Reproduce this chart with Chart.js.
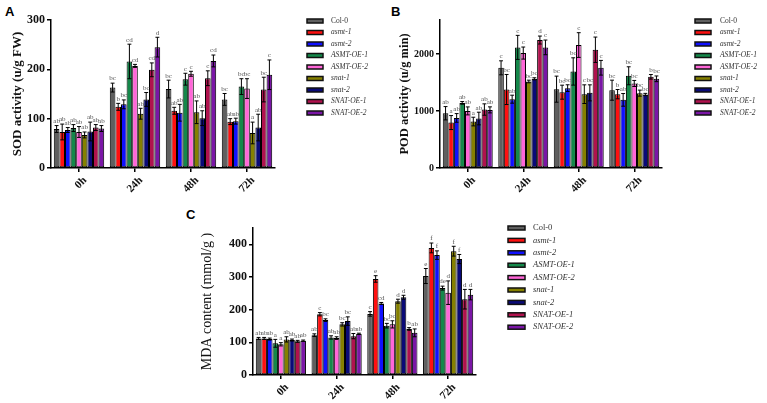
<!DOCTYPE html>
<html><head><meta charset="utf-8">
<script src="https://cdn.jsdelivr.net/npm/chart.js@4.4.1/dist/chart.umd.min.js"></script>
<style>
body{margin:0;background:#fff;width:767px;height:403px;overflow:hidden;position:relative}
canvas{position:absolute}
.pl{position:absolute;font:bold 13px "Liberation Sans",Arial,sans-serif;color:#000}
</style></head><body>
<div class="pl" style="left:5px;top:4px">A</div>
<div class="pl" style="left:391px;top:4px">B</div>
<div class="pl" style="left:186px;top:207px">C</div>
<canvas id="cA" width="390" height="200" style="left:0;top:0"></canvas>
<canvas id="cB" width="382" height="200" style="left:385px;top:0"></canvas>
<canvas id="cC" width="400" height="203" style="left:180px;top:200px"></canvas>
<script>
// ---- data ----
const timepoints = ['0h','24h','48h','72h'];
const genotypes = ['Col-0','asmt-1','asmt-2','ASMT-OE-1','ASMT-OE-2','snat-1','snat-2','SNAT-OE-1','SNAT-OE-2'];
const italicNames = [false,true,true,true,true,true,true,true,true];

// SOD activity (u/g FW), rows = genotypes, cols = timepoints
const sodTicks = [0,100,200,300];
const sodMean = [
  [79,163,160,139],[73,124,116,94],[77,129,112,95],[81,216,180,165],[73,207,191,161],
  [67,110,113,71],[74,139,101,82],[82,199,182,159],[80,245,217,189]];
const sodErr = [
  [7,9,18,12],[16,7,7,6],[5,9,17,6],[7,35,12,16],[11,3,5,20],
  [6,11,23,22],[19,14,15,27],[6,14,15,25],[6,20,12,30]];
const sodLetters = [
  ['ab','bc','bc','bc'],['ab','b','ab','ab'],['ab','bc','ab','ab'],['ab','cd','c','bc'],['ab','cd','c','bc'],
  ['ab','ab','ab','a'],['ab','bc','ab','ab'],['ab','cd','c','bc'],['ab','d','cd','c']];

// POD activity (u/g min)
const podTicks = [0,1000,2000];
const podMean = [
  [962,1760,1385,1367],[798,1379,1332,1297],[880,1209,1403,1197],[1144,2119,1696,1620],[1003,2019,2160,1485],
  [816,1520,1297,1315],[869,1567,1320,1291],[1027,2248,2077,1602],[1021,2119,1761,1567]];
const podErr = [
  [117,123,229,176],[123,264,123,82],[76,70,59,111],[23,211,240,158],[70,106,217,53],
  [76,23,164,53],[111,18,141,20],[100,70,223,40],[53,129,129,50]];
const podLetters = [
  ['ab','c','bc','bc'],['a','bc','bc','b'],['ab','ab','bc','ab'],['ab','c','bc','bc'],['ab','c','c','bc'],
  ['a','bc','c','bc'],['ab','bc','bc','bc'],['ab','d','c','b'],['ab','c','c','bc']];

// MDA content (mmol/g)
const mdaTicks = [0,100,200,300,400];
const mdaMean = [
  [112,122,187,303],[112,186,294,389],[110,168,219,367],[97,115,151,266],[94,113,155,252],
  [109,155,226,379],[107,165,238,355],[103,119,141,232],[105,126,129,246]];
const mdaErr = [
  [3,4,7,23],[3,5,10,15],[3,4,3,13],[12,5,7,6],[5,4,11,36],
  [8,5,6,15],[3,13,6,14],[3,8,4,30],[2,2,12,16]];
const mdaLetters = [
  ['ab','ab','c','e'],['ab','c','e','f'],['ab','bc','cd','f'],['a','ab','bc','de'],['a','ab','bc','d'],
  ['ab','bc','d','f'],['ab','bc','d','f'],['ab','ab','b','d'],['ab','ab','ab','d']];

// ---- styles ----
const colors = ['#5f5f5f','#ff1010','#1010ff','#14884a','#ff66d8','#858000','#0a0a78','#b0124e','#7a16a6'];
const SERIF = '"Liberation Serif","Times New Roman",serif';

const errPlugin = {
  id: 'errPlugin',
  afterDatasetsDraw(chart) {
    const {ctx} = chart; const ys = chart.scales.y;
    ctx.save();
    chart.data.datasets.forEach((ds, di) => {
      const meta = chart.getDatasetMeta(di);
      meta.data.forEach((bar, i) => {
        const v = ds.data[i], e = ds.errs[i];
        const yt = ys.getPixelForValue(v + e), yb = ys.getPixelForValue(v - e);
        const cw = bar.width * 0.35;
        ctx.strokeStyle = '#000'; ctx.lineWidth = 1;
        ctx.beginPath();
        ctx.moveTo(bar.x, yb); ctx.lineTo(bar.x, yt);
        ctx.moveTo(bar.x - cw, yt); ctx.lineTo(bar.x + cw, yt);
        ctx.moveTo(bar.x - cw, yb); ctx.lineTo(bar.x + cw, yb);
        ctx.stroke();
        ctx.fillStyle = '#555';
        ctx.font = '7px ' + SERIF;
        ctx.textAlign = 'center'; ctx.textBaseline = 'bottom';
        ctx.fillText(ds.letters[i], bar.x, yt - 1);
      });
    });
    ctx.restore();
  }
};

const legendPlugin = {
  id: 'sideLegend',
  afterDraw(chart, args, o) {
    const {ctx} = chart;
    ctx.save();
    chart.data.datasets.forEach((ds, i) => {
      const cy = o.y + i * o.dy;
      ctx.fillStyle = ds.backgroundColor;
      ctx.fillRect(o.x, cy - o.bh / 2, o.bw, o.bh);
      ctx.strokeStyle = '#111'; ctx.lineWidth = 1.5;
      ctx.strokeRect(o.x, cy - o.bh / 2, o.bw, o.bh);
      ctx.fillStyle = '#333';
      ctx.font = (italicNames[i] ? 'italic ' : '') + o.fs + 'px ' + SERIF;
      ctx.textAlign = 'left'; ctx.textBaseline = 'middle';
      ctx.fillText(ds.label, o.tx, cy);
    });
    ctx.restore();
  }
};

function makeChart(id, means, errs, letters, tickVals, cfg) {
  const datasets = genotypes.map((g, k) => ({
    label: g,
    data: means[k],
    errs: errs[k],
    letters: letters[k],
    backgroundColor: colors[k],
    borderColor: '#000',
    borderWidth: 1,
    borderSkipped: false,
    categoryPercentage: 0.9,
    barPercentage: 1.0
  }));
  return new Chart(document.getElementById(id), {
    type: 'bar',
    data: { labels: timepoints, datasets },
    options: {
      responsive: false, animation: false,
      layout: { padding: { top: cfg.top, right: cfg.right, left: 0, bottom: 0 } },
      plugins: { legend: { display: false }, tooltip: { enabled: false }, sideLegend: cfg.legend },
      scales: {
        x: {
          grid: { display: true, drawOnChartArea: false, drawTicks: true, tickLength: 4, offset: false, color: '#000', lineWidth: 1.5 },
          border: { display: true, color: '#000', width: 1.5 },
          ticks: { color: '#111', font: { family: SERIF, size: 11, weight: 'bold' }, minRotation: 45, maxRotation: 45, labelOffset: 6, padding: 2 },
          afterFit(s) { s.height = cfg.xh; }
        },
        y: {
          min: 0, max: cfg.max,
          grid: { display: true, drawOnChartArea: false, drawTicks: true, tickLength: 4, lineWidth: 1.5, color: '#000' },
          border: { display: true, color: '#000', width: 1.5 },
          ticks: { autoSkip: false, color: '#111', font: { family: SERIF, size: cfg.tickSize, weight: 'bold' }, padding: 2,
                   callback: v => String(v) },
          afterBuildTicks(s) { s.ticks = tickVals.map(v => ({ value: v })); },
          title: { display: true, text: cfg.title, color: '#111',
                   font: { family: SERIF, size: cfg.tsize, weight: cfg.tweight }, padding: { top: cfg.tpad, bottom: 0 } },
          afterFit(s) { s.width = cfg.yw; }
        }
      }
    },
    plugins: [errPlugin, legendPlugin]
  });
}

makeChart('cA', sodMean, sodErr, sodLetters, sodTicks, {
  top: 20, right: 115, xh: 32, yw: 51, max: 300, tickSize: 12,
  title: 'SOD activity (u/g FW)', tsize: 13, tweight: 'bold', tpad: 10,
  legend: { x: 307, y: 21, dy: 11.5, bw: 16, bh: 4, tx: 331, fs: 7.5 }
});
makeChart('cB', podMean, podErr, podLetters, podTicks, {
  top: 20, right: 105, xh: 32, yw: 55, max: 2600, tickSize: 10,
  title: 'POD activity (u/g min)', tsize: 12.5, tweight: 'bold', tpad: 12,
  legend: { x: 310, y: 21, dy: 11.5, bw: 16, bh: 4, tx: 335, fs: 7.5 }
});
makeChart('cC', mdaMean, mdaErr, mdaLetters, mdaTicks, {
  top: 28, right: 104, xh: 28, yw: 73, max: 450, tickSize: 12,
  title: 'MDA content (mmol/g )', tsize: 14, tweight: 'normal', tpad: 19,
  legend: { x: 328, y: 28, dy: 12.4, bw: 17, bh: 4, tx: 353, fs: 8.5 }
});
</script>
</body></html>
